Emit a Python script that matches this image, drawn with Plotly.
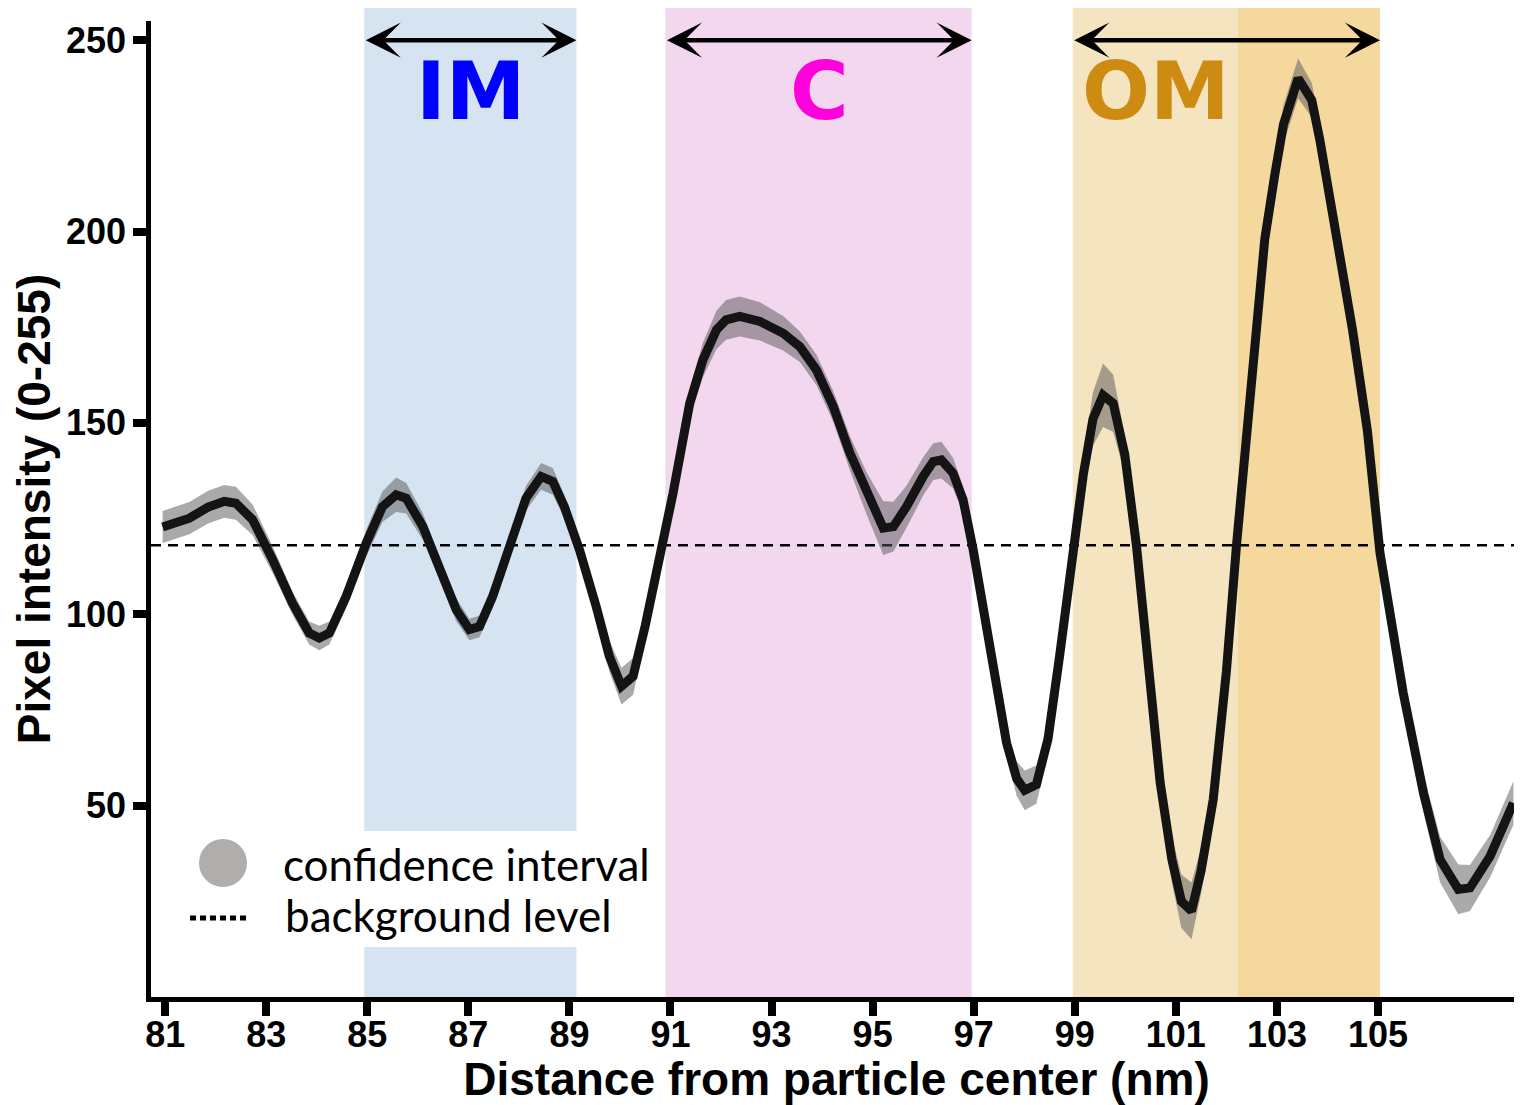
import plotly.graph_objects as go

# ---- data ----
dist_nm = [80.95, 81.48, 81.85, 82.17, 82.40, 82.73, 83.13, 83.52, 83.85, 84.05,
           84.25, 84.58, 84.98, 85.30, 85.57, 85.77, 86.10, 86.43, 86.76, 87.02,
           87.22, 87.48, 87.82, 88.14, 88.44, 88.67, 88.90, 89.20, 89.53, 89.79,
           90.03, 90.26, 90.50, 90.78, 91.05, 91.38, 91.64, 91.91, 92.10, 92.37,
           92.77, 93.23, 93.56, 93.89, 94.22, 94.55, 94.88, 95.21, 95.41, 95.67,
           96.00, 96.20, 96.36, 96.59, 96.79, 96.99, 97.38, 97.65, 97.85, 98.01,
           98.24, 98.47, 98.70, 98.94, 99.17, 99.36, 99.56, 99.76, 99.99, 100.22,
           100.45, 100.69, 100.92, 101.11, 101.31, 101.50, 101.74, 102.00, 102.20, 102.50,
           102.76, 102.96, 103.13, 103.42, 103.69, 103.85, 104.02, 104.22, 104.50, 104.79,
           105.04, 105.50, 105.90, 106.23, 106.59, 106.82, 107.22, 107.68]
intensity = [122.8, 125.1, 128.0, 129.5, 129.0, 124.7, 114.2, 102.9, 95.1, 93.8,
             95.1, 104.6, 118.6, 128.1, 131.2, 130.3, 122.9, 111.6, 101.2, 96.0,
             96.8, 104.6, 117.7, 130.3, 136.0, 134.7, 128.1, 116.8, 102.0, 89.0,
             81.2, 83.8, 97.0, 114.2, 131.6, 155.1, 166.4, 174.3, 176.9, 177.8,
             176.5, 173.4, 169.9, 163.8, 154.3, 142.1, 131.6, 122.5, 122.9, 128.1,
             136.0, 139.9, 140.3, 136.9, 129.9, 116.8, 87.0, 66.4, 57.1, 54.0,
             55.5, 67.4, 89.1, 115.9, 136.6, 151.0, 157.2, 155.1, 141.7, 118.0,
             89.1, 56.0, 36.0, 25.0, 22.5, 33.0, 51.6, 85.0, 118.0, 162.0,
             198.0, 215.0, 228.0, 240.0, 234.3, 223.9, 210.8, 197.8, 174.0, 148.0,
             116.0, 79.4, 53.3, 35.9, 28.1, 28.5, 36.8, 50.7]
ci_half = [4.2, 4.2, 4.3, 4.3, 4.3, 4.0, 3.5, 3.0, 3.0, 3.2,
           3.0, 3.0, 3.5, 4.0, 4.5, 4.0, 3.5, 3.0, 3.0, 2.8,
           2.8, 3.0, 3.0, 3.2, 3.5, 3.5, 3.0, 3.0, 3.5, 4.0,
           4.8, 4.8, 4.0, 3.5, 3.5, 4.0, 4.5, 5.0, 5.2, 5.2,
           5.0, 4.5, 4.0, 4.0, 4.0, 4.5, 5.5, 7.0, 6.5, 5.5,
           5.0, 4.8, 4.8, 4.0, 3.5, 3.0, 3.0, 3.5, 4.5, 5.2,
           5.0, 4.0, 3.5, 4.0, 5.0, 7.0, 8.3, 7.5, 5.0, 4.0,
           4.0, 5.0, 6.0, 7.0, 7.4, 6.0, 5.0, 4.0, 4.0, 4.0,
           4.0, 4.5, 5.0, 5.2, 4.5, 4.0, 4.0, 4.0, 4.0, 4.0,
           4.0, 4.0, 5.0, 6.0, 6.5, 6.0, 5.5, 5.7]
background_level = 118

x_ticks = [81, 83, 85, 87, 89, 91, 93, 95, 97, 99, 101, 103, 105]
y_ticks = [50, 100, 150, 200, 250]

region_names = ['IM', 'C', 'OM']
region_start = [84.94, 90.90, 98.96]
region_end = [89.14, 96.96, 105.04]
om_split = 102.23
label_x = [87.05, 93.95, 100.6]
label_colors = ['#0000FF', '#FF00DD', '#CD8B12']
region_fill = ['#D6E4F2', '#F3D7EE', '#F5E4C0']
om_dark_fill = '#F5D89E'

x_range = [80.72, 107.85]
y_range = [0, 255]

# ---- page geometry (pixels); the page body adds an 8px margin ----
OFF = 8
W, H = 1522 - OFF, 1105 - OFF
PL, PT, PR, PB = 151, 21, 1522, 997   # plot area in page pixels
L, T = PL - OFF, PT - OFF
R = 0
B = H - T - (PB - PT)


def px(x):
    return (x - PL) / (PR - PL)


def py(y):
    return (PB - y) / (PB - PT)


upper = [v + h for v, h in zip(intensity, ci_half)]
lower = [v - h for v, h in zip(intensity, ci_half)]

fig = go.Figure()

fig.add_trace(go.Scatter(x=dist_nm, y=upper, mode='lines', line=dict(width=0),
                         showlegend=False, hoverinfo='skip'))
fig.add_trace(go.Scatter(x=dist_nm, y=lower, mode='lines', line=dict(width=0),
                         fill='tonexty', fillcolor='rgba(85,85,85,0.5)',
                         showlegend=False, hoverinfo='skip'))
fig.add_trace(go.Scatter(x=dist_nm, y=intensity, mode='lines',
                         line=dict(color='#141414', width=9),
                         showlegend=False))

shapes = []
top = py(7)
for i in range(3):
    x1 = om_split if region_names[i] == 'OM' else region_end[i]
    shapes.append(dict(type='rect', xref='x', yref='paper', x0=region_start[i], x1=x1,
                       y0=0, y1=top, fillcolor=region_fill[i], line=dict(width=0), layer='below'))
shapes.append(dict(type='rect', xref='x', yref='paper', x0=om_split, x1=region_end[2],
                   y0=0, y1=top, fillcolor=om_dark_fill, line=dict(width=0), layer='below'))

# legend box
shapes.append(dict(type='rect', xref='paper', yref='paper', x0=0, x1=px(656),
                   y0=py(947), y1=py(831), fillcolor='white', line=dict(width=0), layer='below'))
shapes.append(dict(type='line', xref='paper', yref='y', x0=0, x1=1,
                   y0=background_level, y1=background_level,
                   line=dict(color='black', width=2.5, dash='10px,7px'), layer='below'))
shapes.append(dict(type='circle', xref='paper', yref='paper',
                   x0=px(199), x1=px(247), y0=py(887), y1=py(839),
                   fillcolor='#B0ADAD', line=dict(width=0)))
shapes.append(dict(type='line', xref='paper', yref='paper',
                   x0=px(190), x1=px(249), y0=py(918), y1=py(918),
                   line=dict(color='black', width=5, dash='6px,4px')))

annotations = []
for i in range(3):
    annotations.append(dict(x=region_end[i], y=250, ax=region_start[i], ay=250,
                            xref='x', yref='y', axref='x', ayref='y', text='',
                            showarrow=True, arrowside='end+start', arrowhead=3,
                            startarrowhead=3, arrowwidth=4.5, arrowsize=1.3,
                            startarrowsize=1.3, arrowcolor='black'))
    annotations.append(dict(x=label_x[i], y=236.7, xref='x', yref='y', text=region_names[i],
                            showarrow=False, xanchor='center', yanchor='middle',
                            font=dict(family='DejaVu Sans', size=80, color=label_colors[i],
                                      weight='bold')))

annotations.append(dict(x=px(281), y=py(864), xref='paper', yref='paper',
                        text='confidence interval', showarrow=False,
                        xanchor='left', yanchor='middle',
                        font=dict(family='Lato', size=44, color='black')))
annotations.append(dict(x=px(283), y=py(915), xref='paper', yref='paper',
                        text='background level', showarrow=False,
                        xanchor='left', yanchor='middle',
                        font=dict(family='Lato', size=44, color='black')))

fig.update_layout(
    width=W, height=H,
    margin=dict(l=L, r=R, t=T, b=B, pad=0),
    plot_bgcolor='white',
    paper_bgcolor='white',
    shapes=shapes,
    annotations=annotations,
    showlegend=False,
    font=dict(family='Liberation Sans', color='black')
)

fig.update_xaxes(
    range=x_range, tickvals=x_ticks, ticks='outside', ticklen=14, tickwidth=8,
    tickcolor='black', showline=True, linewidth=4.5, linecolor='black',
    showgrid=False, zeroline=False, ticklabelstandoff=-12,
    tickfont=dict(family='Liberation Sans', size=36, weight='bold'),
    title=dict(text='Distance from particle center (nm)', standoff=14,
               font=dict(family='Liberation Sans', size=46, weight='bold'))
)
fig.update_yaxes(
    range=y_range, tickvals=y_ticks, ticks='outside', ticklen=13, tickwidth=8,
    tickcolor='black', showline=True, linewidth=4.5, linecolor='black',
    showgrid=False, zeroline=False,
    tickfont=dict(family='Liberation Sans', size=36, weight='bold'),
    title=dict(text='Pixel intensity (0-255)', standoff=7,
               font=dict(family='Liberation Sans', size=46, weight='bold'))
)

fig.write_html('out.html')
